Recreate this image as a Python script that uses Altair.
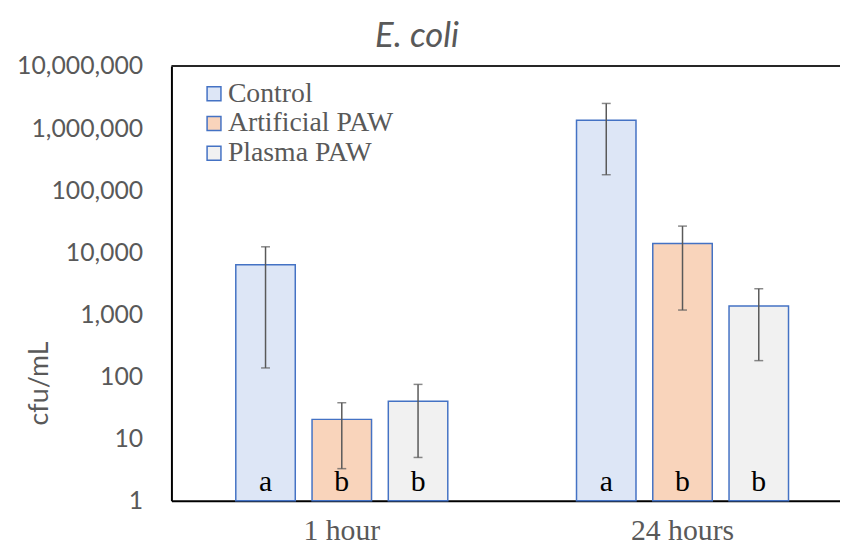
import altair as alt
import pandas as pd

# ---- data ----
times = ["1 hour", "24 hours"]
series = ["Control", "Artificial PAW", "Plasma PAW"]

mean_1h = [6300, 20.5, 40]
low_1h = [138, 3.3, 5.0]
high_1h = [12300, 38, 75]
letters_1h = ["a", "b", "b"]

mean_24h = [1345000, 13900, 1370]
low_24h = [178000, 1180, 181]
high_24h = [2500000, 26500, 2600]
letters_24h = ["a", "b", "b"]

chart_title = ["E. coli"]
fill_colors = ["#dde6f6", "#f9d4bb", "#f1f1f1"]
y_ticks = [1, 10, 100, 1000, 10000, 100000, 1000000, 10000000]

rows = []
for t, means, lows, highs, lets in [
    (times[0], mean_1h, low_1h, high_1h, letters_1h),
    (times[1], mean_24h, low_24h, high_24h, letters_24h),
]:
    for s, m, lo, hi, le in zip(series, means, lows, highs, lets):
        rows.append({"time": t, "series": s, "mean": m, "low": lo, "high": hi, "letter": le})
df = pd.DataFrame(rows)

W, H = 675, 439
GRAY = "#595959"

x_enc = alt.X(
    "time:N",
    sort=times,
    scale=alt.Scale(range=[0, 688], paddingInner=0, paddingOuter=0),
    axis=alt.Axis(
        title=None,
        labelFont="Liberation Serif",
        labelFontSize=30,
        labelColor=GRAY,
        labelAngle=0,
        labelBaseline="alphabetic",
        labelPadding=39,
        ticks=False,
        domainColor="#000000",
        domainWidth=2,
    ),
)
xoff_enc = alt.XOffset(
    "series:N", sort=series, scale=alt.Scale(paddingInner=0.22, paddingOuter=0.844)
)
y_scale = alt.Scale(type="log", domain=[1, 10000000])

base = alt.Chart(df)

bars = base.mark_bar(stroke="#4472c4", strokeWidth=1.5).encode(
    x=x_enc,
    xOffset=xoff_enc,
    y=alt.Y(
        "mean:Q",
        scale=y_scale,
        axis=alt.Axis(
            title="cfu/mL",
            values=y_ticks,
            format=",",
            labelFont="Lato",
            labelFontSize=25,
            labelColor=GRAY,
            labelPadding=29,
            ticks=False,
            grid=False,
            domainColor="#000000",
            domainWidth=2,
            titleFont="Lato",
            titleFontSize=27,
            titleFontWeight="normal",
            titleColor=GRAY,
            titleX=-133,
            titleY=320,
            titleBaseline="middle",
            titleAngle=-90,
        ),
    ),
    y2=alt.datum(1),
    fill=alt.Fill(
        "series:N",
        sort=series,
        scale=alt.Scale(domain=series, range=fill_colors),
        legend=alt.Legend(
            title=None,
            orient="none",
            legendX=29,
            legendY=14,
            symbolType="square",
            symbolSize=196,
            symbolStrokeColor="#4472c4",
            symbolStrokeWidth=1.5,
            symbolOpacity=1,
            labelFont="Liberation Serif",
            labelFontSize=28,
            labelColor=GRAY,
            labelOffset=0,
            labelLimit=400,
            rowPadding=2,
        ),
    ),
)

err = base.mark_rule(color=GRAY, strokeWidth=1.5).encode(
    x=alt.X("time:N", sort=times),
    xOffset=alt.XOffset("series:N", sort=series),
    y=alt.Y("low:Q", scale=y_scale),
    y2="high:Q",
)
cap_lo = base.mark_tick(color=GRAY, size=9, thickness=1.5).encode(
    x=alt.X("time:N", sort=times),
    xOffset=alt.XOffset("series:N", sort=series),
    y=alt.Y("low:Q", scale=y_scale),
)
cap_hi = base.mark_tick(color=GRAY, size=9, thickness=1.5).encode(
    x=alt.X("time:N", sort=times),
    xOffset=alt.XOffset("series:N", sort=series),
    y=alt.Y("high:Q", scale=y_scale),
)
letters = base.mark_text(
    font="Liberation Serif", fontSize=30, color="#000000", baseline="alphabetic", dy=-10
).encode(
    x=alt.X("time:N", sort=times),
    xOffset=alt.XOffset("series:N", sort=series),
    y=alt.datum(1),
    text="letter:N",
)

top_border = alt.Chart(pd.DataFrame({"top": [10000000]})).mark_rule(
    color="#262626", strokeWidth=2
).encode(y=alt.Y("top:Q", scale=y_scale))

title_text = alt.Chart(pd.DataFrame({"t": chart_title})).mark_text(
    font="Lato",
    fontSize=35,
    fontStyle="italic",
    color=GRAY,
    align="center",
    baseline="alphabetic",
).encode(x=alt.value(248), y=alt.value(-19), text="t:N")

chart = (
    alt.layer(bars, err, cap_lo, cap_hi, letters, top_border, title_text)
    .properties(
        width=W,
        height=H,
        autosize=alt.AutoSizeParams(type="none"),
        padding={"left": 165, "top": 56, "right": 0, "bottom": 46},
    )
    .configure_view(stroke=None)
)

chart.save("out.html", embed_options={"renderer": "svg", "actions": False})
